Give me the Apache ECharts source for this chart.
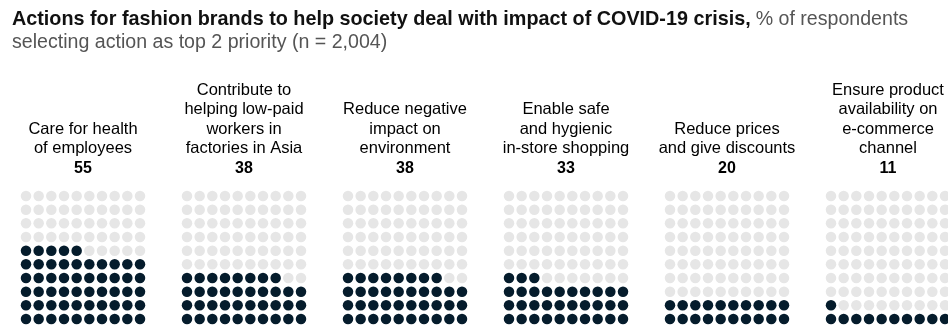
<!DOCTYPE html>
<html>
<head>
<meta charset="utf-8">
<script src="https://cdn.jsdelivr.net/npm/echarts@6/dist/echarts.min.js"></script>
<style>
html,body{margin:0;padding:0;background:#fff;}
#c{width:948px;height:327px;}
</style>
</head>
<body>
<div id="c"></div>
<script>
var categories = [
  'Care for health\nof employees',
  'Contribute to\nhelping low-paid\nworkers in\nfactories in Asia',
  'Reduce negative\nimpact on\nenvironment',
  'Enable safe\nand hygienic\nin-store shopping',
  'Reduce prices\nand give discounts',
  'Ensure product\navailability on\ne-commerce\nchannel'
];
var values = [55, 38, 38, 33, 20, 11];
var titleBold = 'Actions for fashion brands to help society deal with impact of COVID-19 crisis,';
var titleRest = '% of respondents';
var titleLine2 = 'selecting action as top 2 priority (n = 2,004)';

var FONT = '"Liberation Sans", Arial, sans-serif';
var DARK = '#051c2c';
var LIGHT = '#e6e6e6';
var panelLeft0 = 26, panelStep = 161, panelW = 114, gridTop = 196, gridH = 123;

var grids = [], xAxes = [], yAxes = [], series = [], graphics = [];
categories.forEach(function (cat, p) {
  var left = panelLeft0 + p * panelStep;
  grids.push({left: left, top: gridTop, width: panelW, height: gridH});
  xAxes.push({type: 'value', gridIndex: p, min: 0, max: 9, show: false});
  yAxes.push({type: 'value', gridIndex: p, min: 0, max: 9, show: false});
  var filled = [], empty = [];
  for (var i = 0; i < 100; i++) {
    var pt = [i % 10, Math.floor(i / 10)];
    if (i < values[p]) filled.push(pt); else empty.push(pt);
  }
  series.push({type: 'scatter', xAxisIndex: p, yAxisIndex: p, data: empty, symbolSize: 10.5,
    itemStyle: {color: LIGHT, opacity: 1}, silent: true, animation: false});
  series.push({type: 'scatter', xAxisIndex: p, yAxisIndex: p, data: filled, symbolSize: 10.5,
    itemStyle: {color: DARK, opacity: 1}, silent: true, animation: false});
  var lines = cat.split('\n').map(function (l) { return '{l|' + l + '}'; }).join('\n');
  graphics.push({
    type: 'text', x: left + panelW / 2, y: 178,
    style: {
      text: lines + '\n{n|' + values[p] + '}',
      textAlign: 'center', textVerticalAlign: 'bottom',
      rich: {
        l: {fontFamily: FONT, fontSize: 16.5, color: '#333', lineHeight: 19.5, align: 'center'},
        n: {fontFamily: FONT, fontSize: 16, fontWeight: 'bold', color: '#111', lineHeight: 19.5, align: 'center'}
      }
    }
  });
});

var chart = echarts.init(document.getElementById('c'), null, {renderer: 'canvas'});
chart.setOption({
  animation: false,
  title: {
    left: 7, top: 3,
    text: '{b|' + titleBold + '} {r|' + titleRest + '}\n{r|' + titleLine2 + '}',
    textStyle: {
      fontWeight: 'normal',
      rich: {
        b: {fontFamily: FONT, fontSize: 19.8, fontWeight: 'bold', color: '#111', lineHeight: 23},
        r: {fontFamily: FONT, fontSize: 19.6, fontWeight: 'normal', color: '#555', lineHeight: 23}
      }
    }
  },
  grid: grids, xAxis: xAxes, yAxis: yAxes, series: series,
  graphic: graphics
});
</script>
</body>
</html>
